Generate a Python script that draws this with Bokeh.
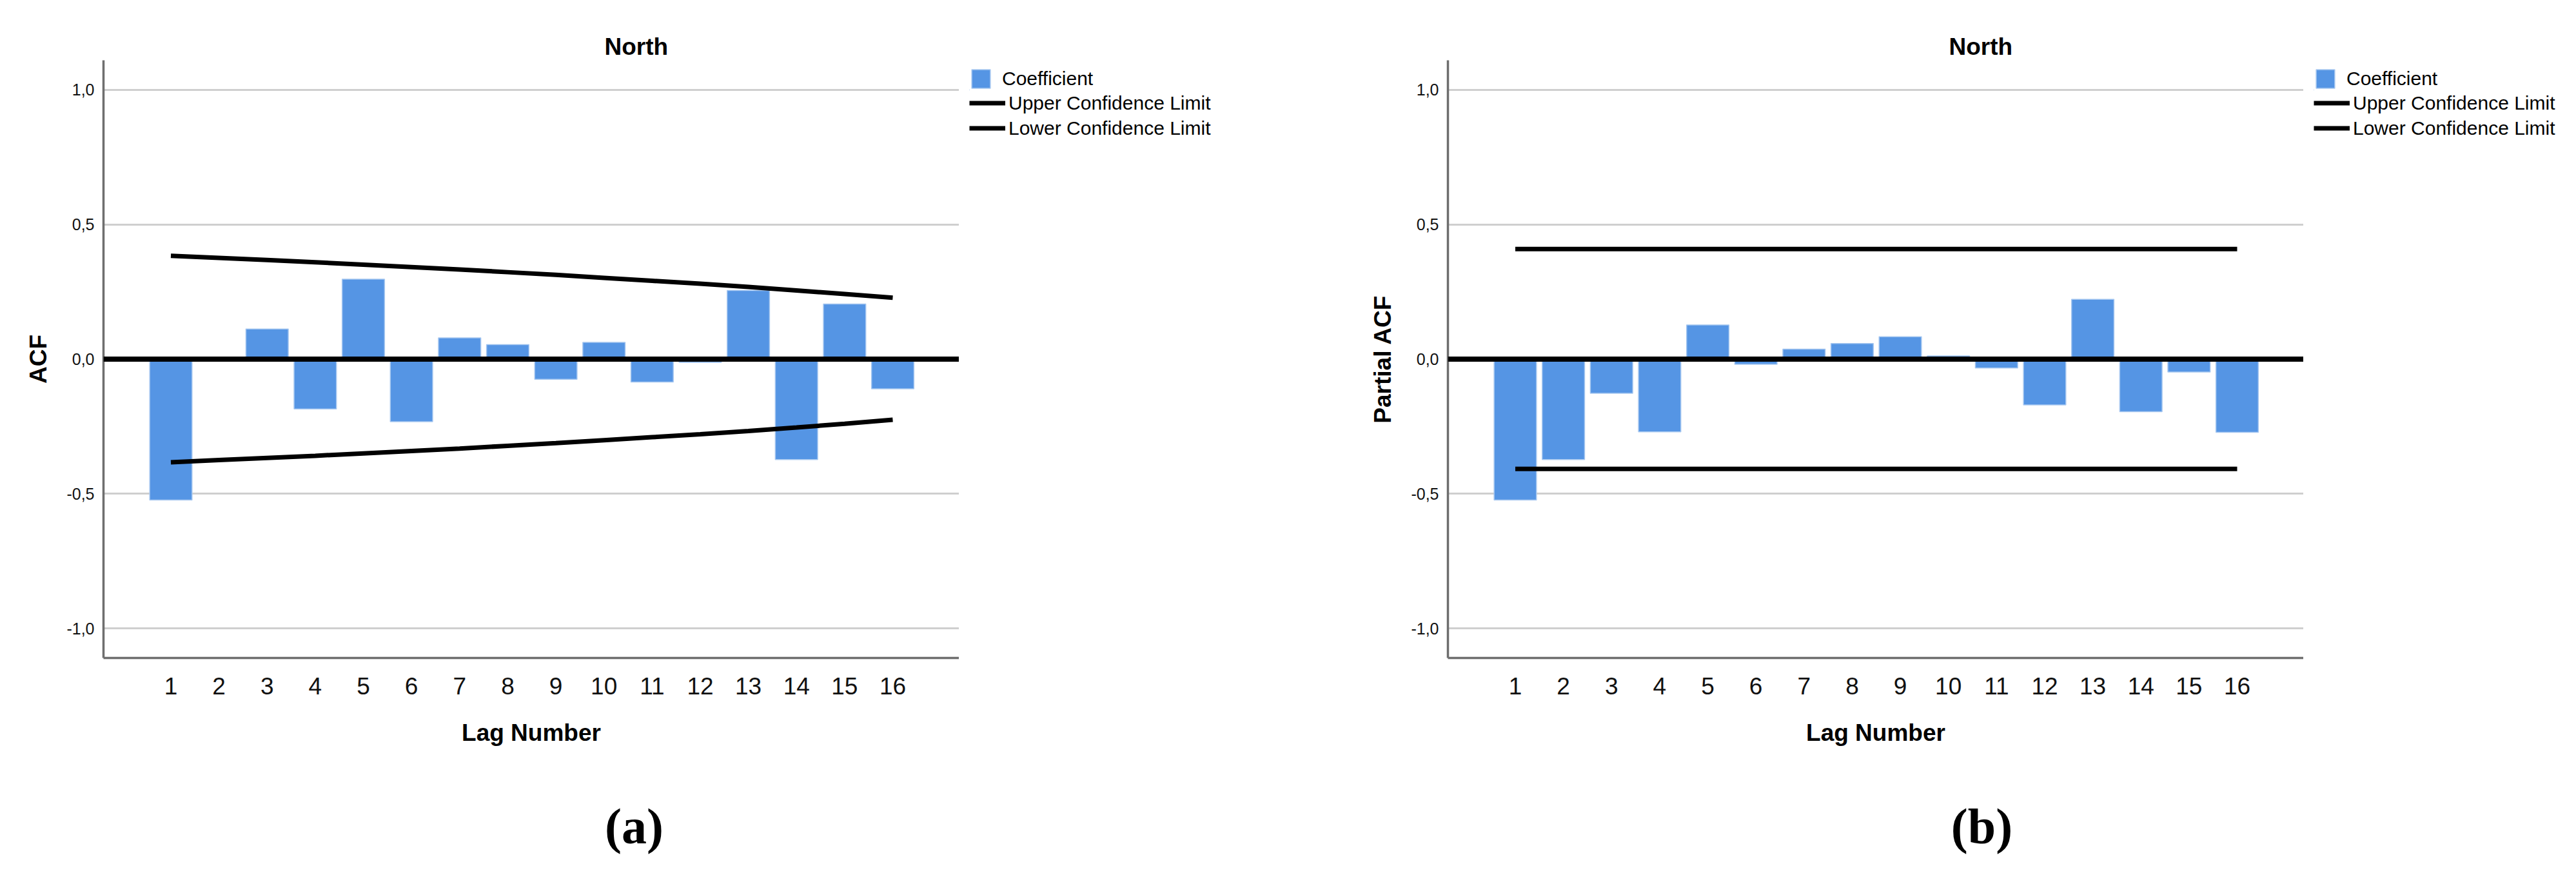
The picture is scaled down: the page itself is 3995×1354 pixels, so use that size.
from bokeh.plotting import figure
from bokeh.models import Legend, LegendItem, Span, Label, FixedTicker, Range1d, Title
from bokeh.layouts import row, column
from bokeh.embed import file_html
from bokeh.resources import INLINE

# ---------------- data ----------------
lags = list(range(1, 17))
x_tick_labels = [str(k) for k in lags]
y_ticks = [-1.0, -0.5, 0.0, 0.5, 1.0]
y_tick_labels = ["-1,0", "-0,5", "0,0", "0,5", "1,0"]

acf_coef = [-0.523, 0.004, 0.112, -0.185, 0.297, -0.232, 0.079, 0.054,
            -0.075, 0.062, -0.085, -0.012, 0.255, -0.373, 0.205, -0.110]
acf_upper = [0.384, 0.376, 0.368, 0.360, 0.351, 0.342, 0.333, 0.323,
             0.313, 0.302, 0.291, 0.280, 0.268, 0.255, 0.242, 0.228]
acf_lower = [-0.383, -0.375, -0.367, -0.359, -0.350, -0.341, -0.332, -0.322,
             -0.312, -0.301, -0.290, -0.279, -0.267, -0.254, -0.240, -0.225]

pacf_coef = [-0.523, -0.373, -0.127, -0.270, 0.127, -0.019, 0.037, 0.058,
             0.083, 0.012, -0.033, -0.170, 0.222, -0.195, -0.048, -0.272]
pacf_upper = [0.409, 0.409, 0.409, 0.409, 0.409, 0.409, 0.409, 0.409,
              0.409, 0.409, 0.409, 0.409, 0.409, 0.409, 0.409, 0.409]
pacf_lower = [-0.408, -0.408, -0.408, -0.408, -0.408, -0.408, -0.408, -0.408,
              -0.408, -0.408, -0.408, -0.408, -0.408, -0.408, -0.408, -0.408]

title_text = "North"
x_label = "Lag Number"
legend_labels = ["Coefficient", "Upper Confidence Limit", "Lower Confidence Limit"]
panel_tags = ["(a)", "(b)"]

# ---------------- layout constants ----------------
X0, X1 = -0.40, 17.38
Y0, Y1 = -1.11, 1.11
FW, FH = 1327, 927          # frame size (px)
LEFT_BORDER = 160
TOP_BORDER = 93
CHART_H = 1200
TAG_H = 1338 - CHART_H
CHART_W = LEFT_BORDER + FW
BAR_COLOR = "#5595e4"
BAR_EDGE = "#a6c7f0"
SANS = "Liberation Sans"


def make_chart(coef, upper, lower, ylabel):
    p = figure(width=CHART_W, height=CHART_H,
               x_range=Range1d(X0, X1), y_range=Range1d(Y0, Y1),
               output_backend="svg", toolbar_location=None, tools="",
               min_border_left=LEFT_BORDER, min_border_right=0,
               min_border_top=TOP_BORDER,
               min_border_bottom=CHART_H - TOP_BORDER - FH)
    p.outline_line_color = None
    p.background_fill_color = "white"
    p.border_fill_color = "white"

    p.title = Title(text=title_text, align="left", offset=777, standoff=2,
                    text_font=SANS, text_font_style="bold",
                    text_font_size="37px", text_color="black")

    p.xgrid.visible = False
    p.ygrid.grid_line_color = "#cfcfcf"
    p.ygrid.grid_line_width = 3

    for ax in (p.xaxis[0], p.yaxis[0]):
        ax.axis_line_color = "#6e6e6e"
        ax.axis_line_width = 3.5
        ax.major_tick_line_color = None
        ax.minor_tick_line_color = None
        ax.major_tick_out = 0
        ax.major_tick_in = 0
        ax.major_label_text_font = SANS
        ax.major_label_text_color = "#111111"
        ax.axis_label_text_font = SANS
        ax.axis_label_text_font_style = "bold"
        ax.axis_label_text_font_size = "37px"
        ax.axis_label_text_color = "black"

    p.xaxis.ticker = FixedTicker(ticks=lags)
    p.xaxis.major_label_overrides = dict(zip(lags, x_tick_labels))
    p.xaxis.major_label_text_font_size = "37px"
    p.xaxis.major_label_standoff = 30
    p.xaxis.axis_label = x_label
    p.xaxis.axis_label_standoff = 36

    p.yaxis.ticker = FixedTicker(ticks=y_ticks)
    p.yaxis.major_label_overrides = dict(zip(y_ticks, y_tick_labels))
    p.yaxis.major_label_text_font_size = "25px"
    p.yaxis.major_label_standoff = 14
    p.yaxis.axis_label = ylabel
    p.yaxis.axis_label_standoff = 20

    p.vbar(x=lags, top=coef, bottom=0, width=0.88,
           fill_color=BAR_COLOR, line_color=BAR_EDGE, line_width=1.5)
    p.add_layout(Span(location=0, dimension="width", line_color="black", line_width=8))
    p.line(lags, upper, line_color="black", line_width=7)
    p.line(lags, lower, line_color="black", line_width=7)
    return p


LEG_COMMON = dict(location="top_left", orientation="vertical", padding=0, margin=0,
                  spacing=0, border_line_color=None, background_fill_alpha=0,
                  label_text_font=SANS, label_text_font_size="30px",
                  label_text_color="black")


def blank(width, height, top, left):
    # the x range lies far right of every lag, so the key renderers stay off-canvas
    f = figure(width=width, height=height, x_range=Range1d(100, 101),
               y_range=Range1d(100, 101),
               output_backend="svg", toolbar_location=None, tools="",
               x_axis_type=None, y_axis_type=None,
               min_border_top=top, min_border_left=left,
               min_border_right=0, min_border_bottom=0)
    f.outline_line_color = None
    f.xgrid.visible = False
    f.ygrid.visible = False
    return f


def make_legend_panel(width, coef, upper, lower):
    """Legend column to the right of a chart."""
    ha = 140
    la = blank(width, ha, 104, 16)
    key_bar = la.vbar(x=lags, top=coef, bottom=0, width=0.88, fill_color=BAR_COLOR,
                      line_color=BAR_EDGE, line_width=1.5)
    la.add_layout(Legend(items=[LegendItem(label=legend_labels[0], renderers=[key_bar])],
                         glyph_width=36, glyph_height=36, label_height=36,
                         label_standoff=15, **LEG_COMMON))
    lb = blank(width, CHART_H - ha, 0, 0)
    key_up = lb.line(lags, upper, line_color="black", line_width=7)
    key_lo = lb.line(lags, lower, line_color="black", line_width=7)
    lb.add_layout(Legend(items=[LegendItem(label=legend_labels[1], renderers=[key_up]),
                                LegendItem(label=legend_labels[2], renderers=[key_lo])],
                         glyph_width=56, glyph_height=39, label_height=39,
                         label_standoff=5, **LEG_COMMON))
    return column(la, lb)


def make_tag(tag, width, cx):
    t = figure(width=width, height=TAG_H, x_range=Range1d(0, width),
               y_range=Range1d(TAG_H, 0), output_backend="svg",
               toolbar_location=None, tools="", x_axis_type=None, y_axis_type=None,
               min_border=0)
    t.outline_line_color = None
    t.xgrid.visible = False
    t.ygrid.visible = False
    t.add_layout(Label(x=cx, y=81, text=tag, text_align="center",
                       text_baseline="alphabetic", text_font="Liberation Serif",
                       text_font_style="bold", text_font_size="78px",
                       text_color="black"))
    return t


LEG1_W = 2085 - CHART_W
LEG2_W = 3979 - 2085 - CHART_W - 2
p1 = make_chart(acf_coef, acf_upper, acf_lower, "ACF")
l1 = make_legend_panel(LEG1_W, acf_coef, acf_upper, acf_lower)
p2 = make_chart(pacf_coef, pacf_upper, pacf_lower, "Partial ACF")
l2 = make_legend_panel(LEG2_W, pacf_coef, pacf_upper, pacf_lower)
t1 = make_tag(panel_tags[0], CHART_W + LEG1_W, 983)
t2 = make_tag(panel_tags[1], CHART_W + LEG2_W, 988)

layout = column(row(p1, l1, p2, l2), row(t1, t2))
open("out.html", "w").write(file_html(layout, INLINE))
